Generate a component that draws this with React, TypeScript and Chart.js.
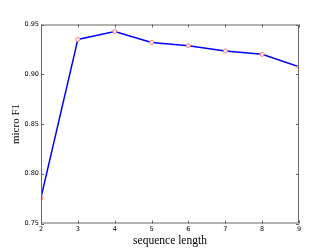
import React, { useEffect, useRef } from "react";
import { Chart, registerables } from "chart.js";

Chart.register(...registerables);

const seqLengths = [2, 3, 4, 5, 6, 7, 8, 9];
const microF1 = [0.776, 0.935, 0.943, 0.932, 0.9287, 0.9234, 0.92, 0.9076];
const yTicks = [0.75, 0.8, 0.85, 0.9, 0.95];

const framePlugin = {
  id: "frame",
  afterDraw(chart: any) {
    const { ctx, chartArea, scales } = chart;
    const { left, right, top, bottom } = chartArea;
    ctx.save();
    ctx.strokeStyle = "#666";
    ctx.lineWidth = 1;
    ctx.strokeRect(left + 0.5, top + 0.5, right - left - 1, bottom - top - 1);
    const tl = 3;
    ctx.beginPath();
    for (const v of seqLengths) {
      const x = Math.round(scales.x.getPixelForValue(v)) + 0.5;
      ctx.moveTo(x, bottom);
      ctx.lineTo(x, bottom - tl);
      ctx.moveTo(x, top);
      ctx.lineTo(x, top + tl);
    }
    for (const v of yTicks) {
      const y = Math.round(scales.y.getPixelForValue(v)) + 0.5;
      ctx.moveTo(left, y);
      ctx.lineTo(left + tl, y);
      ctx.moveTo(right, y);
      ctx.lineTo(right - tl, y);
    }
    ctx.stroke();
    ctx.restore();
  },
};

export default function App() {
  const ref = useRef<HTMLCanvasElement | null>(null);
  useEffect(() => {
    if (!ref.current) return;
    const chart = new Chart(ref.current, {
      type: "line",
      data: {
        labels: seqLengths,
        datasets: [
          {
            data: seqLengths.map((x, i) => ({ x, y: microF1[i] })),
            borderColor: "#0000ff",
            borderWidth: 1.5,
            pointRadius: 2,
            pointBorderWidth: 1,
            pointBorderColor: "#ff6f6f",
            pointBackgroundColor: "#ffffff",
            tension: 0,
            fill: false,
          },
        ],
      },
      options: {
        animation: false,
        responsive: true,
        maintainAspectRatio: false,
        layout: { padding: { top: 24.5, right: 33, left: 0, bottom: 0 } },
        plugins: { legend: { display: false }, tooltip: { enabled: false } },
        scales: {
          x: {
            type: "linear",
            min: 2,
            max: 9,
            grid: { display: false, drawTicks: false },
            border: { display: false },
            ticks: {
              stepSize: 1,
              padding: 2,
              color: "#000",
              font: { family: "DejaVu Sans", size: 6.5 },
            },
            title: {
              display: true,
              text: "sequence length",
              color: "#000",
              font: { family: "Liberation Serif", size: 11.5 },
              padding: { top: 0, bottom: 1.4 },
            },
            afterFit: (s: any) => {
              s.height = 25.5;
            },
          },
          y: {
            min: 0.75,
            max: 0.95,
            grid: { display: false, drawTicks: false },
            border: { display: false },
            afterBuildTicks: (s: any) => {
              s.ticks = yTicks.map((v) => ({ value: v }));
            },
            ticks: {
              padding: 2,
              color: "#000",
              font: { family: "DejaVu Sans", size: 6.5 },
              callback: (v: any) => Number(v).toFixed(2),
            },
            title: {
              display: true,
              text: "micro F1",
              color: "#000",
              font: { family: "Liberation Serif", size: 11 },
              padding: { top: 9.4, bottom: 0 },
            },
            afterFit: (s: any) => {
              s.width = 41;
            },
          },
        },
      },
      plugins: [framePlugin],
    });
    return () => chart.destroy();
  }, []);
  return (
    <div style={{ position: "absolute", left: 0, top: 0, width: 332, height: 249, background: "#fff" }}>
      <canvas ref={ref} />
    </div>
  );
}
